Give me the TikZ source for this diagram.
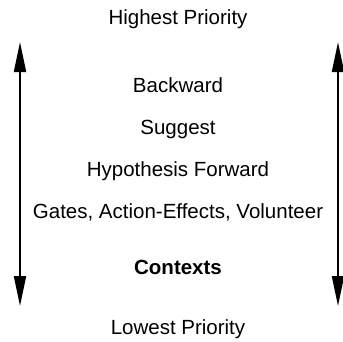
\documentclass[tikz,border=0pt]{standalone}
\usepackage{fontspec}
\setmainfont{Liberation Sans}
\usetikzlibrary{arrows.meta}
\begin{document}
\begin{tikzpicture}[x=1pt,y=-1pt,
  lbl/.style={font=\fontsize{20.5}{23}\selectfont, anchor=base, inner sep=0pt},
  prio/.style={line width=2pt, {Triangle[length=30pt,width=12pt]}-{Triangle[length=30pt,width=12pt]}}]
\useasboundingbox (0,0) rectangle (343,341);
\node[lbl] (hi) at (178,24) {Highest Priority};
\node[lbl] (b) at (178,92) {Backward};
\node[lbl] (s) at (178,134) {Suggest};
\node[lbl] (h) at (178,176) {Hypothesis Forward};
\node[lbl] (g) at (178,218) {Gates, Action-Effects, Volunteer};
\node[lbl,font=\fontsize{20.5}{23}\selectfont\bfseries] (c) at (178,274) {Contexts};
\node[lbl] (lo) at (178,334) {Lowest Priority};
\coordinate (lt) at (20,42);
\coordinate (lb) at (20,306);
\coordinate (rt) at (338,42);
\coordinate (rb) at (338,306);
\draw[prio] (lt) -- (lb);
\draw[prio] (rt) -- (rb);
\end{tikzpicture}
\end{document}
